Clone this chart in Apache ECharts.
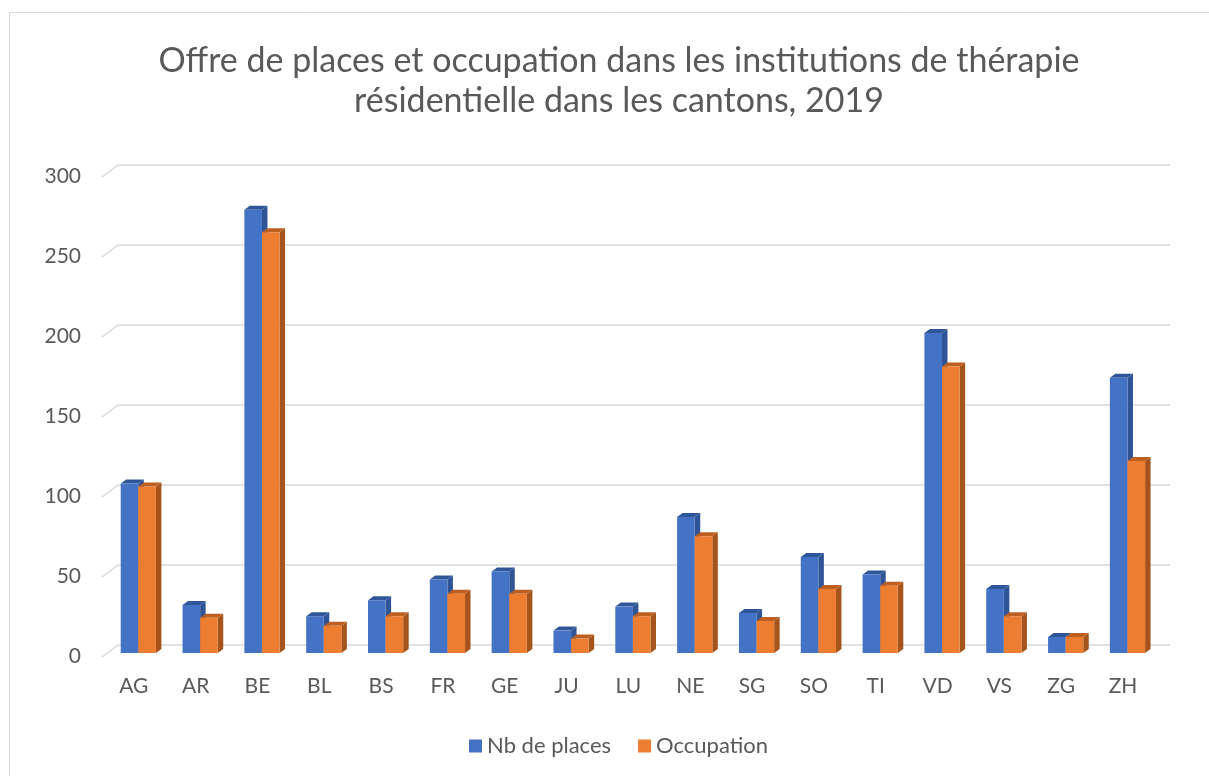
<!DOCTYPE html>
<html>
<head>
<meta charset="utf-8">
<script src="https://cdn.jsdelivr.net/npm/echarts@6/dist/echarts.min.js"></script>
<style>
  html, body { margin: 0; padding: 0; background: #fff; }
  #chart { width: 1209px; height: 776px; }
</style>
</head>
<body>
<div id="chart"></div>
<script>
// data
const cantons = ['AG', 'AR', 'BE', 'BL', 'BS', 'FR', 'GE', 'JU', 'LU', 'NE', 'SG', 'SO', 'TI', 'VD', 'VS', 'ZG', 'ZH'];
const places = [106, 30, 277, 23, 33, 46, 51, 14, 29, 85, 25, 60, 49, 200, 40, 10, 172];
const occupation = [104, 22, 263, 17, 23, 37, 37, 9, 23, 73, 20, 40, 42, 179, 23, 10, 120];
const yTicks = [0, 50, 100, 150, 200, 250, 300];

const chart = echarts.init(document.getElementById('chart'));

const BAR_W = 17.6;  // front face width
const DX = 5.5;      // depth offset (x)
const DY = 4;        // depth offset (y)
const GRID_COLOR = '#d9d9d9';
const TEXT_COLOR = '#595959';

// pseudo 3d column: side, top, then front face
function bar3d(leftSide, front, side, top) {
  return function (params, api) {
    const idx = api.value(0);
    const p = api.coord([idx, api.value(1)]);
    const b = api.coord([idx, 0]);
    const x0 = leftSide ? p[0] - BAR_W : p[0];
    const x1 = x0 + BAR_W;
    const yt = p[1], yb = b[1];
    return {
      type: 'group',
      children: [
        { type: 'polygon', shape: { points: [[x1, yt], [x1 + DX, yt - DY], [x1 + DX, yb - DY], [x1, yb]] }, style: { fill: side } },
        { type: 'polygon', shape: { points: [[x0, yt], [x0 + DX, yt - DY], [x1 + DX, yt - DY], [x1, yt]] }, style: { fill: top } },
        { type: 'rect', shape: { x: x0, y: yt, width: BAR_W, height: yb - yt }, style: { fill: front } }
      ]
    };
  };
}

// the little slanted bits of the gridlines at the left (floor edge)
function floorEdge(params, api) {
  const p = api.coord([0, api.value(1)]);
  return {
    type: 'line',
    shape: { x1: p[0] - 16, y1: p[1] + 12, x2: p[0], y2: p[1] },
    style: { stroke: GRID_COLOR, lineWidth: 1.5 }
  };
}

const option = {
  animation: false,
  backgroundColor: '#fff',
  textStyle: { fontFamily: 'Lato' },
  title: {
    text: 'Offre de places et occupation dans les institutions de thérapie\nrésidentielle dans les cantons, 2019',
    left: 614,
    textAlign: 'center',
    top: 36,
    textStyle: { fontFamily: 'Lato', fontSize: 34, fontWeight: 'normal', color: TEXT_COLOR, lineHeight: 40 }
  },
  graphic: [{
    type: 'rect',
    shape: { x: 9.5, y: 12.5, width: 1300, height: 800 },
    style: { fill: 'none', stroke: GRID_COLOR, lineWidth: 1 },
    silent: true
  }],
  legend: {
    data: ['Nb de places', 'Occupation'],
    icon: 'rect',
    itemWidth: 13,
    itemHeight: 13,
    itemGap: 27,
    left: 469,
    top: 735,
    padding: 0,
    textStyle: { fontFamily: 'Lato', fontSize: 22, color: TEXT_COLOR }
  },
  grid: [
    { left: 118, right: 39, top: 165, bottom: 131 },      // back wall gridlines
    { left: 107.4, right: 50.6, top: 173, bottom: 123 },  // bars
    { left: 102, right: 39, top: 176.7, bottom: 119.3 },  // value labels
    { left: 102.9, right: 55.1, top: 173, bottom: 123 }   // category labels
  ],
  xAxis: [
    { gridIndex: 0, type: 'value', min: 0, max: 1, show: false },
    { gridIndex: 1, type: 'category', data: cantons, show: false },
    { gridIndex: 2, type: 'value', min: 0, max: 1, show: false },
    {
      gridIndex: 3, type: 'category', data: cantons,
      axisLine: { show: false }, axisTick: { show: false },
      axisLabel: { margin: 23, fontSize: 21, color: TEXT_COLOR, fontFamily: 'Lato' }
    }
  ],
  yAxis: [
    {
      gridIndex: 0, type: 'value', min: 0, max: 300, interval: 50,
      axisLine: { show: false }, axisTick: { show: false }, axisLabel: { show: false },
      splitLine: { lineStyle: { color: GRID_COLOR, width: 1.5 } }
    },
    { gridIndex: 1, type: 'value', min: 0, max: 300, interval: 50, show: false },
    {
      gridIndex: 2, type: 'value', min: 0, max: 300, interval: 50,
      axisLine: { show: false }, axisTick: { show: false }, splitLine: { show: false },
      axisLabel: { margin: 21, fontSize: 21, color: TEXT_COLOR, fontFamily: 'Lato' }
    },
    { gridIndex: 3, type: 'value', min: 0, max: 300, show: false }
  ],
  series: [
    {
      type: 'custom',
      name: 'floor',
      xAxisIndex: 0, yAxisIndex: 0,
      data: yTicks.map(v => [0, v]),
      encode: { x: 0, y: 1 },
      renderItem: floorEdge,
      silent: true
    },
    {
      type: 'custom',
      name: 'Nb de places',
      xAxisIndex: 1, yAxisIndex: 1,
      itemStyle: { color: '#4472c4' },
      data: cantons.map((c, i) => [i, places[i]]),
      encode: { x: 0, y: 1 },
      renderItem: bar3d(true, '#4472c4', '#2f5597', '#30569a')
    },
    {
      type: 'custom',
      name: 'Occupation',
      xAxisIndex: 1, yAxisIndex: 1,
      itemStyle: { color: '#ed7d31' },
      data: cantons.map((c, i) => [i, occupation[i]]),
      encode: { x: 0, y: 1 },
      renderItem: bar3d(false, '#ed7d31', '#a5541c', '#bd5f20')
    }
  ]
};

chart.setOption(option);
</script>
</body>
</html>
